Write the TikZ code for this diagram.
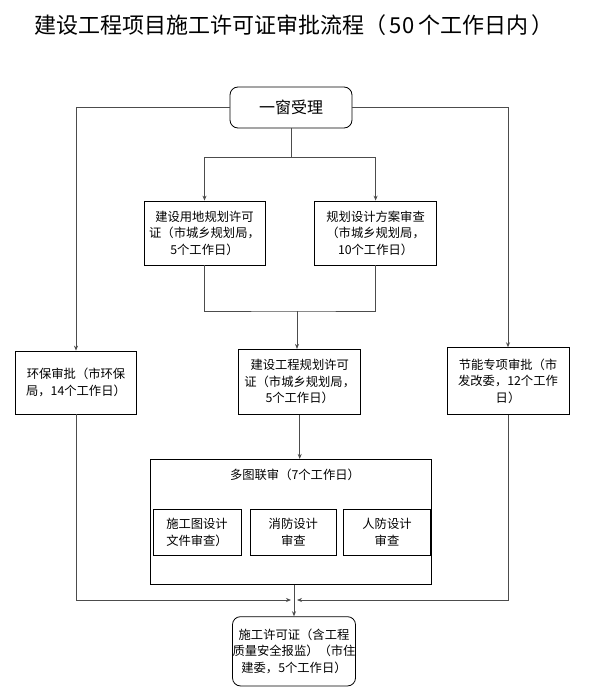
\documentclass[tikz,border=0pt]{standalone}
\usepackage{fontspec}
\setmainfont{Noto Sans CJK SC}
\usetikzlibrary{arrows.meta}
\begin{document}
\begin{tikzpicture}[x=1pt,y=-1pt,
  box/.style={draw, line width=0.8pt, align=center, inner sep=0pt,
    font=\fontsize{12.3}{16.5}\selectfont},
  rbox/.style={box, rounded corners=8pt},
  conn/.style={draw=black!70, line width=0.8pt},
  arr/.style={conn, -{Stealth[length=5pt,width=4pt]}}]
\useasboundingbox (0,0) rectangle (592,696);
\fill[white] (0,0) rectangle (592,696);

\node[font=\fontsize{22}{26}\selectfont] (title) at (294,25) {建设工程项目施工许可证审批流程（\,50\,个工作日内\,）};

\node[rbox, minimum width=122pt, minimum height=41pt, font=\fontsize{16}{18}\selectfont] (yc) at (291,107.5) {一窗受理};

\node[box, minimum width=121pt, minimum height=64pt] (jsyd) at (204.5,233) {建设用地规划许可\\证（市城乡规划局，\\5个工作日）};
\node[box, minimum width=122pt, minimum height=64pt] (ghsj) at (375.6,233) {规划设计方案审查\\（市城乡规划局，\\10个工作日）};

\node[box, minimum width=121pt, minimum height=63pt] (hb) at (76,382.5) {环保审批（市环保\\局，14个工作日）};
\node[box, minimum width=122pt, minimum height=65pt] (gcgh) at (299.7,381.8) {建设工程规划许可\\证（市城乡规划局，\\5个工作日）};
\node[box, minimum width=122pt, minimum height=66.6pt] (jn) at (508,381) {节能专项审批（市\\发改委，12个工作\\日）};

\node[box, minimum width=281pt, minimum height=125pt] (dtls) at (291.2,521.8) {};
\node[font=\fontsize{12.3}{16.5}\selectfont] (dtlsT) at (295,475) {多图联审（7个工作日）};
\node[box, minimum width=88pt, minimum height=46pt] (sgt) at (197,532.3) {施工图设计\\文件审查）};
\node[box, minimum width=86.7pt, minimum height=46pt] (xf) at (293.3,532.3) {消防设计\\审查};
\node[box, minimum width=87.4pt, minimum height=46pt] (rf) at (387,532.3) {人防设计\\审查};

\node[rbox, minimum width=121.3pt, minimum height=69.3pt] (final) at (294,651.3) {施工许可证（含工程\\质量安全报监）（市住\\建委，5个工作日）};

% connectors
\coordinate (split) at (291,157);
\draw[conn] (yc.south) -- (split);
\draw[arr] (split) -| (jsyd.north);
\draw[arr] (split) -| (ghsj.north);

\coordinate (join) at (297,311);
\draw[conn] (jsyd.south) |- (join) -| (ghsj.south);
\draw[arr] (join) -- (join |- gcgh.north);

\draw[arr] (yc.west) -| (hb.north);
\draw[arr] (yc.east) -| (jn.north);

\draw[arr] (gcgh.south) -- (gcgh.south |- dtls.north);

\coordinate (mL) at (291,600);
\coordinate (mR) at (297,600);
\draw[arr] (hb.south) |- (mL);
\draw[arr] (jn.south) |- (mR);
\draw[arr] (final.north |- dtls.south) -- (final.north);
\end{tikzpicture}
\end{document}
